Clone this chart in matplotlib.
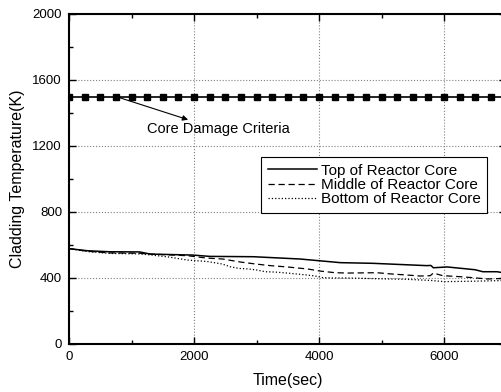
import numpy as np
import matplotlib
matplotlib.use('Agg')
import matplotlib.pyplot as plt
from matplotlib.ticker import MultipleLocator

plt.rcParams['font.family'] = ['Liberation Sans', 'DejaVu Sans']

# cladding temperature (time in sec, temperature in K)
top_t = [0, 300, 650, 1130, 1300, 1980, 2250, 2950, 3700, 4340, 4860, 5720, 5790, 5830, 6050, 6500, 6620, 6850, 7000]
top_T = [578, 565, 559, 558, 545, 539, 531, 529, 515, 493, 489, 475, 476, 462, 467, 450, 438, 438, 428]

mid_t = [0, 300, 650, 1130, 1300, 1900, 2200, 2460, 2740, 2980, 3220, 3490, 3810, 4020, 4260, 4460, 4930, 5170, 5410, 5620, 5780, 5830, 5980, 6260, 6460, 6690, 7000]
mid_T = [578, 562, 552, 550, 545, 535, 521, 515, 497, 485, 475, 467, 455, 442, 432, 430, 432, 424, 418, 412, 414, 430, 414, 408, 402, 394, 398]

bot_t = [0, 300, 650, 1130, 1300, 1600, 1890, 2210, 2450, 2580, 2720, 2870, 3010, 3140, 3300, 3490, 3650, 3810, 3940, 4060, 4220, 4450, 4900, 5400, 5800, 6000, 6400, 7000]
bot_T = [578, 560, 549, 546, 540, 527, 509, 500, 485, 468, 458, 455, 448, 438, 436, 430, 424, 418, 412, 402, 400, 400, 396, 392, 385, 378, 380, 385]

crit_t = np.arange(0, 7001, 250)
crit_T = [1500] * len(crit_t)

fig = plt.figure(figsize=(5.02, 3.92), dpi=100)
ax = fig.add_axes([69 / 502, 48 / 392, 437.5 / 502, 330 / 392])

ax.plot(top_t, top_T, '-', color='black', lw=1.1, label='Top of Reactor Core')
ax.plot(mid_t, mid_T, '--', color='black', lw=0.9, dashes=(5, 3), label='Middle of Reactor Core')
ax.plot(bot_t, bot_T, ':', color='black', lw=0.9, label='Bottom of Reactor Core')
ax.plot(crit_t, crit_T, '-', color='black', lw=1.2, marker='s', ms=4)

ax.annotate('Core Damage Criteria', xy=(750, 1500), xytext=(1250, 1300),
            fontsize=10.5, va='center', ha='left',
            arrowprops=dict(arrowstyle='<|-', color='black', lw=0.8, shrinkA=0, shrinkB=0,
                            mutation_scale=8))

ax.set_xlim(0, 7000)
ax.set_ylim(0, 2000)
ax.xaxis.set_major_locator(MultipleLocator(2000))
ax.xaxis.set_minor_locator(MultipleLocator(1000))
ax.yaxis.set_major_locator(MultipleLocator(400))
ax.yaxis.set_minor_locator(MultipleLocator(200))
ax.tick_params(which='both', direction='in', top=True, right=True, labelsize=9.5)
ax.tick_params(which='major', length=5, width=1, pad=5)
ax.tick_params(which='minor', length=3, width=1)
for s in ax.spines.values():
    s.set_linewidth(1.5)
ax.grid(True, which='major', ls=':', color='gray', lw=0.8)

ax.set_xlabel('Time(sec)', fontsize=11.5, labelpad=7)
ax.set_ylabel('Cladding Temperature(K)', fontsize=11.5, labelpad=5)

leg = ax.legend(loc='upper left', bbox_to_anchor=(0.439, 0.567), fontsize=11,
                frameon=True, fancybox=False, edgecolor='black', framealpha=1,
                handlelength=3.2, handletextpad=0.25, borderpad=0.45, labelspacing=0.02,
                borderaxespad=0)
leg.get_frame().set_linewidth(0.8)

fig.savefig('out.png', dpi=100)
